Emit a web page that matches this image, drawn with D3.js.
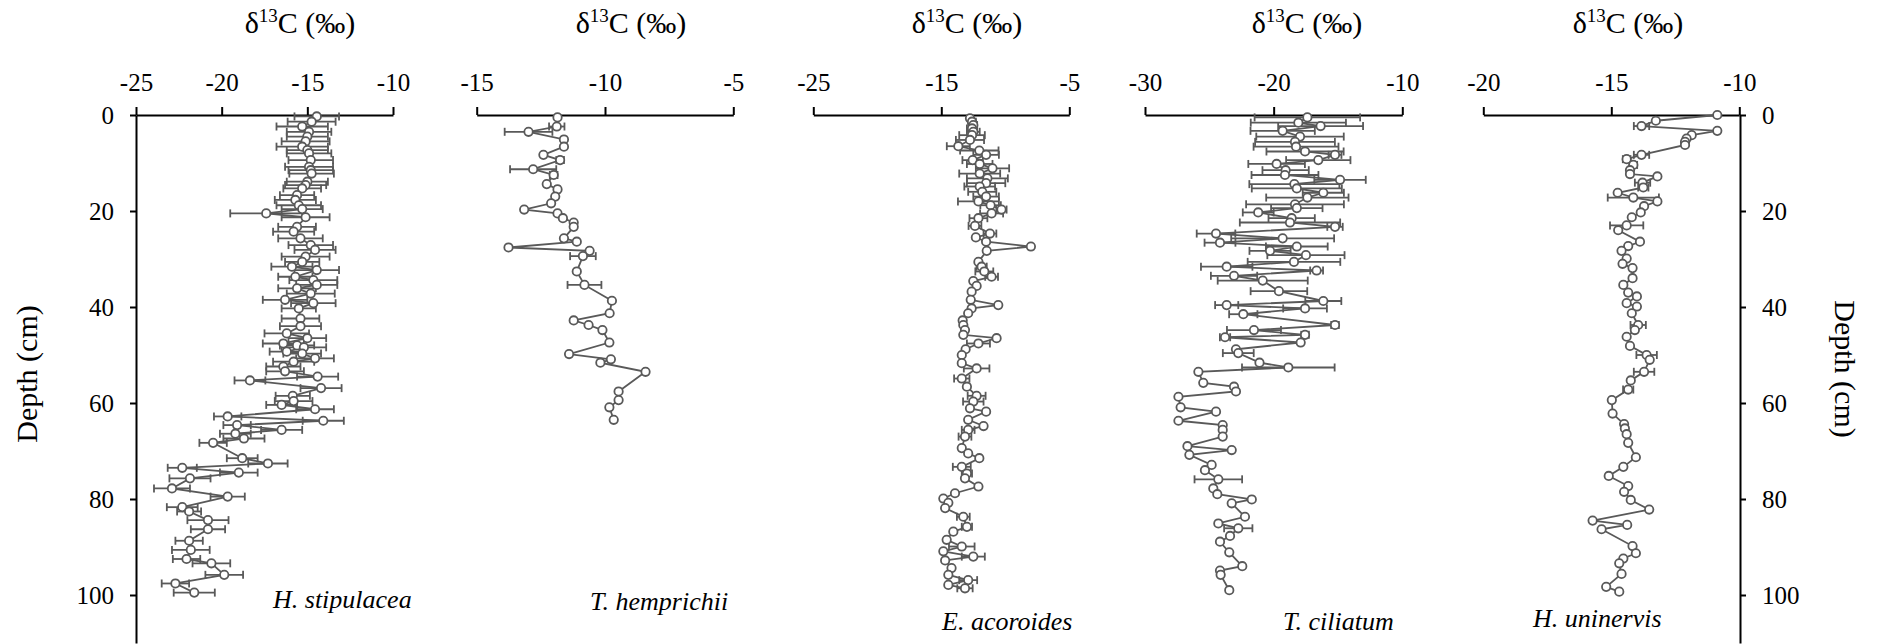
<html>
<head>
<meta charset="utf-8">
<script src="https://d3js.org/d3.v7.min.js"></script>
<style>
body { margin: 0; background: white; }
</style>
</head>
<body>
<script>
// depth (cm), d13C (permil) and error
var depthHS = [0.3,1.4,2.4,3.5,4.5,5.5,6.6,7.3,8,9.4,10.8,11.5,12.2,13.9,14.6,15.3,16.7,17.7,18.8,19.6,20.5,21.3,23.3,24.3,25.7,27.1,28.1,29.5,30.6,31.6,32.3,33.7,34.4,35.4,36.1,37.2,38.5,39.2,40.3,42.4,44,45.5,46.5,47.6,48,48.4,49.3,49.7,50.7,51.4,52.4,53.4,54.5,55.3,56.9,58.5,59.6,60.4,61.3,62.8,63.7,64.6,65.6,66.4,67.4,68.3,71.5,72.6,73.5,74.5,75.7,77.8,79.5,81.7,82.6,84.4,86.3,88.7,90.6,92.5,93.4,95.8,97.6,99.5];
var d13cHS = [-14.45,-14.75,-15.3,-14.9,-15.0,-15.1,-15.3,-15.0,-14.9,-14.8,-14.9,-14.8,-14.75,-15.0,-15.1,-15.3,-15.6,-15.7,-15.5,-15.3,-17.4,-15.1,-15.6,-15.8,-15.4,-14.8,-14.55,-15.1,-15.3,-15.9,-14.45,-15.7,-14.65,-14.45,-15.6,-14.8,-16.3,-14.65,-15.5,-15.4,-15.4,-16.2,-15.0,-16.4,-15.6,-15.2,-16.2,-15.3,-14.55,-15.8,-16.4,-16.3,-14.4,-18.35,-14.2,-15.85,-15.8,-16.5,-14.55,-19.65,-14.07,-19.1,-16.5,-19.2,-18.7,-20.5,-18.8,-17.3,-22.3,-19.0,-21.85,-22.9,-19.65,-22.3,-21.9,-20.8,-20.8,-21.9,-21.8,-22.05,-20.6,-19.85,-22.7,-21.6];
var errHS = [1.3,1.4,1.5,1.3,1.2,1.4,1.5,1.2,1.3,1.3,1.4,1.3,1.3,1.2,1.2,1.1,1.0,1.2,1.3,1.2,2.1,1.4,1.1,1.2,1.3,1.3,1.2,1.4,1.0,1.2,1.3,1.0,1.4,1.2,1.1,1.4,1.3,1.3,1.0,1.1,1.2,1.3,1.1,1.2,1.0,1.3,1.0,1.1,1.1,1.2,1.0,1.1,1.2,0.9,1.2,1.0,1.1,0.9,1.1,0.8,1.2,0.8,1.2,0.9,1.2,0.8,0.9,1.15,0.85,1.1,1.2,1.05,1.0,0.9,0.7,1.2,1.0,0.8,1.1,0.8,1.1,1.1,0.8,1.2];

var depthTH = [0.5,2.4,3.5,5.1,6.6,8.3,9.4,11.3,12.5,14.4,15.5,17,18.4,19.7,20.5,21.5,22.4,23.3,25.7,26.4,27.6,28.3,29.4,32.6,35.4,38.7,41.3,42.8,43.75,44.8,47.4,49.8,50.9,51.6,53.5,57.6,59.4,60.9,63.5];
var d13cTH = [-11.85,-11.88,-12.98,-11.6,-11.6,-12.4,-11.75,-12.8,-12.0,-12.27,-11.85,-11.94,-12.1,-13.15,-11.85,-11.64,-11.22,-11.22,-11.6,-11.1,-13.76,-10.6,-10.86,-11.1,-10.8,-9.73,-9.82,-11.22,-10.64,-10.1,-9.83,-11.4,-9.77,-10.18,-8.42,-9.47,-9.47,-9.83,-9.66];
var errTH = [0,0.3,0.93,0,0,0,0.15,0.9,0.15,0,0.1,0,0,0,0,0,0,0,0,0,0,0,0.5,0,0.66,0,0,0,0,0,0,0,0,0,0,0,0,0,0];

var depthEA = [0.7,1.4,2.1,2.8,3.5,4.2,5.2,6.5,7.4,8.3,9.4,10.2,11.1,12.2,13.2,14.2,14.9,16,17,18,18.8,19.7,20.5,21.5,23.1,24.7,25.5,26.4,27.4,28.3,30.6,31.6,32.6,33.7,34.6,35.6,36.8,38.5,39.6,40.3,41.3,42.8,43.75,44.8,45.8,46.5,47.6,48.8,50,51.7,52.8,54.9,56.6,58.5,59.7,61.1,61.8,63.5,64.8,65.6,67,69.4,70.5,71.5,73.3,74.7,75.7,77.4,78.8,79.9,80.8,81.9,83.7,85.8,86.8,88.5,89.9,90.9,92,92.8,94.4,95.8,96.9,97.9,98.6];
var d13cEA = [-12.76,-12.6,-12.5,-12.6,-12.5,-12.6,-12.76,-13.67,-12.03,-11.5,-12.55,-12.0,-11.0,-12.0,-11.4,-11.5,-12.0,-11.8,-11.5,-12.1,-11.15,-10.3,-11.07,-12.1,-12.37,-11.2,-12.3,-11.5,-8.0,-11.45,-12.1,-11.85,-11.64,-11.07,-12.5,-12.24,-12.63,-12.7,-10.55,-12.63,-12.9,-13.33,-13.28,-13.15,-13.28,-10.68,-12.1,-13.1,-13.4,-13.4,-12.24,-13.4,-13.0,-12.24,-12.5,-12.76,-11.5,-12.9,-11.7,-12.9,-13.15,-13.4,-12.9,-12.03,-13.4,-13.0,-13.15,-12.1,-13.93,-14.84,-14.45,-14.7,-13.28,-13.0,-14.06,-14.58,-13.4,-14.84,-12.5,-14.7,-14.2,-14.45,-12.9,-14.45,-13.15];
var errEA = [0,0.3,0.3,0.4,0.5,1.0,1.1,0.9,1.5,1.0,0.8,1.0,1.3,1.6,1.6,1.5,1.2,1.1,1.0,1.6,0.8,0.4,0.9,0.7,0.5,0.5,0,0,0,0,0,0.4,0.7,0.5,0,0,0,0,0,0,0,0,0,0,0,0,0.9,0,0,0,1.0,0.6,0,0.7,0.8,0,0,0,0,0.5,0.5,0,0,0,0.7,0.4,0,0,0,0,0,0,0.5,0.4,0,0,1.0,0,0.9,0,0,0,0.7,0,0.6];

var depthTC = [0.5,1.6,2.3,3.3,4.5,5.6,6.6,7.6,8.3,9.4,10.2,11.5,12.5,13.5,14.4,15.3,16.2,17.2,18.6,19.4,20.3,21.5,22.4,23.3,24.7,25.7,26.6,27.4,28.3,29.2,30.6,31.6,32.4,33.5,34.5,36.7,38.75,39.6,40.3,41.5,43.75,44.8,45.8,46.3,47.4,48.8,49.6,51.6,52.6,53.5,55.8,56.6,57.6,58.7,60.9,61.8,63.7,64.6,65.6,67,69,69.8,70.8,72.9,74,75.9,77.8,79,80.1,80.9,83.7,85.1,86.1,87.7,88.9,91.1,94,94.9,95.8,99];
var d13cTC = [-17.38,-18.08,-16.35,-19.3,-17.95,-18.34,-18.26,-17.56,-15.23,-16.53,-19.77,-19.07,-19.12,-14.84,-18.39,-18.2,-16.14,-17.38,-18.34,-18.2,-21.2,-18.6,-18.73,-15.23,-24.48,-19.3,-24.17,-18.2,-20.28,-17.49,-18.42,-23.65,-16.66,-23.08,-20.85,-19.59,-16.14,-23.65,-17.56,-22.36,-15.23,-21.53,-17.56,-23.78,-17.9,-22.93,-22.75,-21.1,-18.86,-25.85,-25.47,-23.08,-22.93,-27.4,-27.23,-24.48,-27.4,-23.96,-23.96,-23.96,-26.7,-23.26,-26.55,-24.82,-25.34,-24.3,-24.69,-24.38,-21.7,-23.26,-22.23,-24.3,-22.75,-23.39,-24.17,-23.45,-22.44,-24.17,-24.12,-23.45];
var errTC = [4.1,3.7,3.3,2.5,3.4,3.1,3.3,3.0,0.5,2.5,2.2,1.8,2.6,2.0,3.5,3.5,1.6,3.2,3.8,2.0,1.2,1.8,3.9,0.6,1.5,4.0,1.2,2.4,1.6,3.0,3.6,2.0,0.5,1.8,3.5,2.2,1.4,0.9,1.7,1.1,0.3,2.1,0.3,0.4,0,0,1.2,0,3.6,0,0,0,0,0,0,0,0,0,0,0,0,0,0,0,0,1.85,0,0,0,0,0,0,1.1,0,0,0,0,0,0,0];

var depthHU = [0,1.2,2.3,3.3,4.2,4.9,5.6,6.25,8.3,9.2,10.4,11.5,12.3,12.8,14.1,15.1,16.2,17.2,18,19,20.3,21.3,23,24,26.4,27.3,28.3,29.9,31,31.9,34,35.4,37,37.8,39.2,39.9,41.3,43.75,44.8,46.2,48.1,50,51,53.5,55.3,57.2,59.4,62.2,64.4,65.3,66.5,68.3,71.3,73.3,75.2,77.3,78.5,80.2,82.2,84.5,85.4,86.3,89.8,91.3,92.4,93.4,95.6,98.3,99.3];
var d13cHU = [-10.86,-13.26,-13.82,-10.86,-11.86,-12.06,-12.12,-12.12,-13.82,-14.4,-14.14,-14.27,-14.27,-13.2,-13.78,-13.75,-14.75,-14.14,-13.2,-13.72,-13.85,-14.2,-14.4,-14.73,-13.88,-14.34,-14.6,-14.4,-14.56,-14.17,-14.17,-14.53,-14.34,-14.0,-14.4,-14.0,-14.2,-13.95,-14.08,-14.4,-14.27,-13.62,-13.5,-13.72,-14.24,-14.34,-14.98,-14.95,-14.5,-14.47,-14.4,-14.34,-14.04,-14.53,-15.1,-14.34,-14.5,-14.24,-13.52,-15.73,-14.38,-15.38,-14.17,-14.04,-14.53,-14.69,-14.6,-15.2,-14.69];
var errHU = [0,0,0.3,0,0,0,0,0,0.3,0.15,0.15,0,0,0,0.3,0.2,0,1.0,0,0,0,0,0.65,0,0,0,0,0,0,0,0,0,0,0,0,0,0,0.3,0,0,0,0.4,0,0.4,0,0.2,0,0,0,0,0,0,0,0,0,0,0,0,0,0,0,0,0,0,0,0,0,0,0];

var ticksHS = [-25,-20,-15,-10];
var ticksTH = [-15,-10,-5];
var ticksEA = [-25,-15,-5];
var ticksTC = [-30,-20,-10];
var ticksHU = [-20,-15,-10];
var depthTicks = [0,20,40,60,80,100];
var species = ["H. stipulacea","T. hemprichii","E. acoroides","T. ciliatum","H. uninervis"];

var width = 1877, height = 644;
var gray = "#595959";
var serif = "'Liberation Serif', 'Times New Roman', Times, serif";

var panels = [
  {depth: depthHS, val: d13cHS, err: errHS, ticks: ticksHS, x0: 136, x1: 393, titleX: 300, labX: 273, labY: 608},
  {depth: depthTH, val: d13cTH, err: errTH, ticks: ticksTH, x0: 476.7, x1: 733.3, titleX: 631, labX: 590, labY: 610},
  {depth: depthEA, val: d13cEA, err: errEA, ticks: ticksEA, x0: 813.3, x1: 1069.3, titleX: 967, labX: 942, labY: 630},
  {depth: depthTC, val: d13cTC, err: errTC, ticks: ticksTC, x0: 1145, x1: 1402.3, titleX: 1307, labX: 1283, labY: 630},
  {depth: depthHU, val: d13cHU, err: errHU, ticks: ticksHU, x0: 1483.3, x1: 1739.3, titleX: 1628, labX: 1533, labY: 627}
];

var svg = d3.select("body").append("svg")
  .attr("width", width)
  .attr("height", height)
  .attr("font-family", serif);

var y = d3.scaleLinear().domain([0, 110]).range([115, 643]);

panels.forEach(function(p, i) {
  var t = p.ticks;
  var x = d3.scaleLinear().domain([t[0], t[t.length - 1]]).range([p.x0, p.x1]);
  var pts = p.depth.map(function(d, j) { return {d: d, v: p.val[j], e: p.err[j]}; });
  var g = svg.append("g");

  // top axis
  var ax = g.append("g")
    .attr("transform", "translate(0,115)")
    .call(d3.axisTop(x).tickValues(t).tickSize(8).tickSizeOuter(0).tickPadding(16)
      .tickFormat(function(d) { return String(d); }));
  ax.attr("font-family", serif).attr("font-size", 25);
  ax.selectAll("path, line").attr("stroke", "black").attr("stroke-width", 2);
  ax.selectAll("text").attr("fill", "black");

  // title
  var tt = g.append("text")
    .attr("x", p.titleX).attr("y", 33)
    .attr("text-anchor", "middle")
    .attr("font-size", 30);
  tt.append("tspan").text("δ");
  tt.append("tspan").attr("font-size", 19).attr("dy", -11).text("13");
  tt.append("tspan").attr("dy", 11).text("C (‰)");

  // line
  g.append("path")
    .datum(pts)
    .attr("fill", "none")
    .attr("stroke", gray)
    .attr("stroke-width", 1.8)
    .attr("d", d3.line().x(function(d) { return x(d.v); }).y(function(d) { return y(d.d); }));

  // error bars
  var eb = g.append("g").attr("stroke", gray).attr("stroke-width", 1.8);
  pts.filter(function(d) { return d.e > 0; }).forEach(function(d) {
    var yy = y(d.d), xa = x(d.v - d.e), xb = x(d.v + d.e);
    eb.append("line").attr("x1", xa).attr("x2", xb).attr("y1", yy).attr("y2", yy);
    eb.append("line").attr("x1", xa).attr("x2", xa).attr("y1", yy - 4).attr("y2", yy + 4);
    eb.append("line").attr("x1", xb).attr("x2", xb).attr("y1", yy - 4).attr("y2", yy + 4);
  });

  // markers
  g.selectAll("circle")
    .data(pts)
    .enter()
    .append("circle")
    .attr("cx", function(d) { return x(d.v); })
    .attr("cy", function(d) { return y(d.d); })
    .attr("r", 4.2)
    .attr("fill", "white")
    .attr("stroke", gray)
    .attr("stroke-width", 1.8);

  // species label
  g.append("text")
    .attr("x", p.labX).attr("y", p.labY)
    .attr("font-size", 26)
    .attr("font-style", "italic")
    .text(species[i]);
});

// depth axes
var left = svg.append("g")
  .attr("transform", "translate(136,0)")
  .call(d3.axisLeft(y).tickValues(depthTicks).tickSize(6).tickSizeOuter(0).tickPadding(16));
var right = svg.append("g")
  .attr("transform", "translate(1740,0)")
  .call(d3.axisRight(y).tickValues(depthTicks).tickSize(6).tickSizeOuter(0).tickPadding(16));
[left, right].forEach(function(a) {
  a.attr("font-family", serif).attr("font-size", 25);
  a.selectAll("path, line").attr("stroke", "black").attr("stroke-width", 2);
  a.selectAll("text").attr("fill", "black");
});

svg.append("text")
  .attr("transform", "translate(37,374) rotate(-90)")
  .attr("text-anchor", "middle")
  .attr("font-size", 30)
  .text("Depth (cm)");
svg.append("text")
  .attr("transform", "translate(1835,369) rotate(90)")
  .attr("text-anchor", "middle")
  .attr("font-size", 30)
  .text("Depth (cm)");
</script>
</body>
</html>
